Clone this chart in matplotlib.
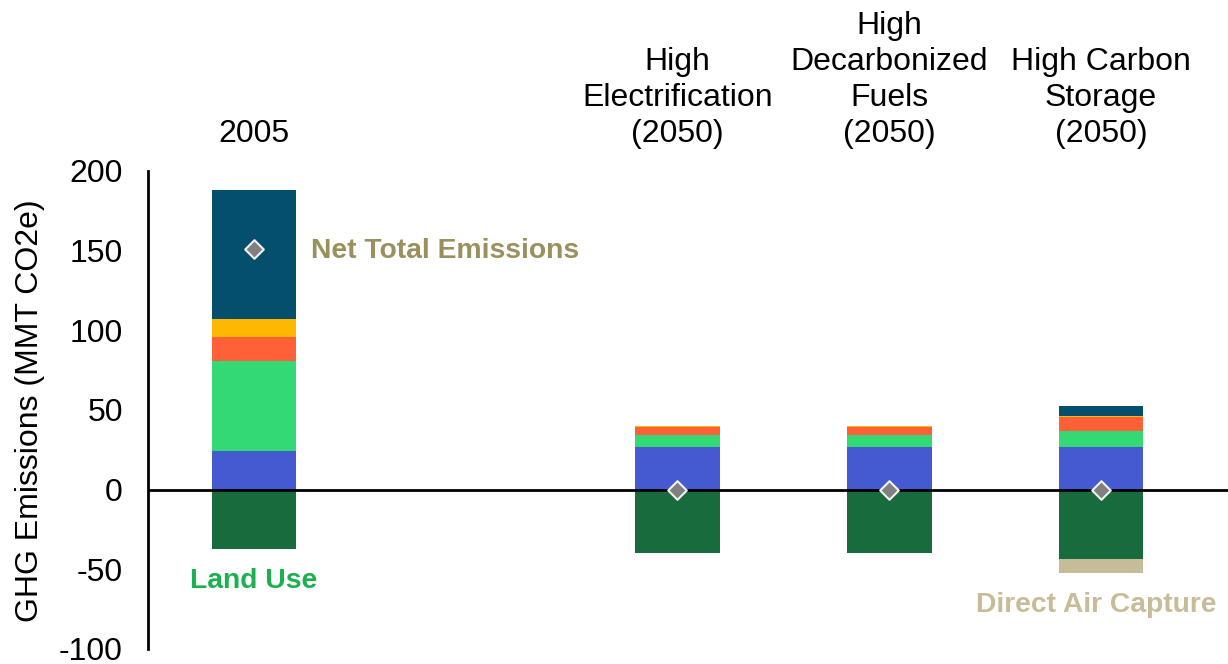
import matplotlib
matplotlib.use("Agg")
import matplotlib.pyplot as plt
import numpy as np

plt.rcParams['font.family'] = ['Liberation Sans', 'DejaVu Sans']
plt.rcParams['axes.unicode_minus'] = False

categories = ["2005", "High\nElectrification\n(2050)", "High\nDecarbonized\nFuels\n(2050)",
              "High Carbon\nStorage\n(2050)"]
positions = [0, 2, 3, 4]

# positive components (stack order bottom -> top)
seg_blue = [24.5, 27.0, 27.0, 26.7]
seg_green = [56.5, 7.0, 7.0, 10.3]
seg_orange = [15.0, 5.2, 5.2, 8.3]
seg_yellow = [11.0, 0.8, 0.8, 0.8]
seg_darkblue = [81.0, 0.0, 0.0, 6.2]
# negative components
land_use = [-37.0, -40.0, -40.0, -43.8]
direct_air_capture = [0.0, 0.0, 0.0, -8.2]
net_total = [151.0, 0.0, 0.0, 0.0]

colors = ["#4559D1", "#33D975", "#FF6038", "#FFB800", "#054F6E"]
land_color = "#176B3C"
dac_color = "#C6BD98"

fig = plt.figure(figsize=(12.28, 6.64), dpi=100)
ax = fig.add_axes([0.1205, 0.0226, 0.8795, 0.7200])

width = 0.4
bottom = np.zeros(len(positions))
for vals, c in zip([seg_blue, seg_green, seg_orange, seg_yellow, seg_darkblue], colors):
    ax.bar(positions, vals, width, bottom=bottom, color=c, edgecolor='none', zorder=2)
    bottom += np.array(vals)

ax.bar(positions, land_use, width, color=land_color, edgecolor='none', zorder=2)
ax.bar(positions, direct_air_capture, width, bottom=land_use, color=dac_color,
       edgecolor='none', zorder=2)

ax.axhline(0, color='black', linewidth=2, zorder=3)

ax.scatter(positions, net_total, marker='D', s=90, color='#808080',
           edgecolors='#F2F2F2', linewidths=1.5, zorder=4)

ax.set_xlim(-0.5, 4.6)
ax.set_ylim(-100, 200)
ax.set_yticks([-100, -50, 0, 50, 100, 150, 200])
ax.tick_params(axis='y', length=0, labelsize=23, pad=18)
ax.set_xticks([])
for s in ['top', 'right', 'bottom']:
    ax.spines[s].set_visible(False)
ax.spines['left'].set_linewidth(2)

fig.text(30 / 1228, 1 - 411 / 664, "GHG Emissions (MMT CO2e)", fontsize=23,
         rotation=90, ha='center', va='center')

for p, lab in zip(positions, categories):
    ax.text(p, 214, lab, ha='center', va='bottom', fontsize=23, linespacing=1.25,
            clip_on=False)

ax.text(0.272, 150, "Net Total Emissions", color='#9B8F5B', fontsize=20.3,
        fontweight='bold', ha='left', va='center')
ax.text(0.0, -57.5, "Land Use", color='#1CB050', fontsize=20.3,
        fontweight='bold', ha='center', va='center')
ax.text(3.98, -72.5, "Direct Air Capture", color='#C8BC98', fontsize=20.3,
        fontweight='bold', ha='center', va='center')

fig.savefig("out.png", dpi=100)
